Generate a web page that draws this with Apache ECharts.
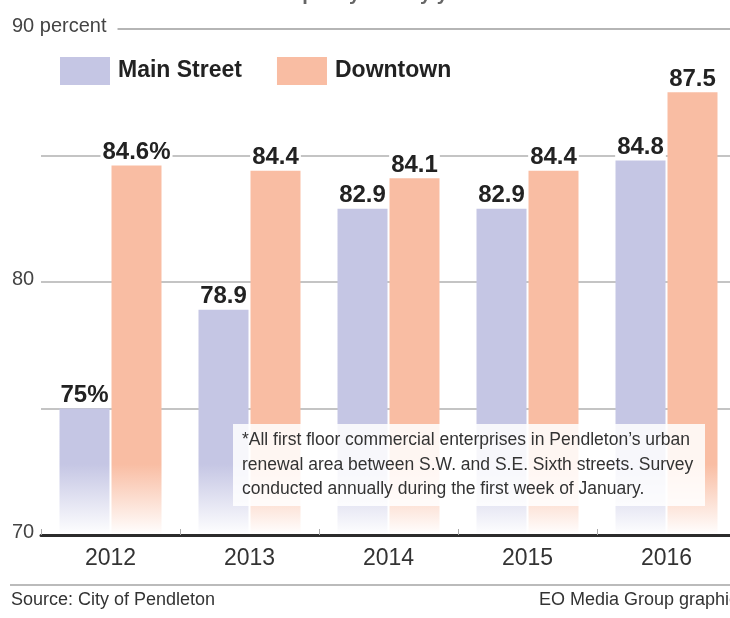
<!DOCTYPE html>
<html>
<head>
<meta charset="utf-8">
<script src="https://cdn.jsdelivr.net/npm/echarts@6/dist/echarts.min.js"></script>
<style>
html,body{margin:0;padding:0;background:#fff;}
#chart{width:730px;height:618px;}
</style>
</head>
<body>
<div id="chart"></div>
<script>
// ---- data ----
var years = ['2012', '2013', '2014', '2015', '2016'];
var mainStreet = [75, 78.9, 82.9, 82.9, 84.8];
var downtown = [84.6, 84.4, 84.1, 84.4, 87.5];
var seriesNames = ['Main Street', 'Downtown'];
var yTicks = [70, 80, 90];
var noteLines = [
  '*All first floor commercial enterprises in Pendleton\u2019s urban',
  'renewal area between S.W. and S.E. Sixth streets. Survey',
  'conducted annually during the first week of January.'
];
var sourceText = 'Source: City of Pendleton';
var creditText = 'EO Media Group graphic';
var topTitle = 'First floor commercial occupancy rate by year and location*';

// ---- styling ----
var SANS = "'Liberation Sans', Arial, sans-serif";
var mainColor = '#c5c6e4';
var downColor = '#f9bda3';

function fade(c) {
  return new echarts.graphic.LinearGradient(0, 29, 0, 535, [
    {offset: 0, color: c},
    {offset: 0.86, color: c},
    {offset: 1, color: '#ffffff'}
  ], true);
}

var valueLabel = {
  show: true,
  position: 'top',
  distance: 1,
  fontFamily: SANS,
  fontWeight: 'bold',
  fontSize: 24,
  color: '#222',
  backgroundColor: '#fff',
  padding: [0, 2, 0, 2],
  formatter: function (p) { return p.dataIndex === 0 ? p.value + '%' : String(p.value); }
};

var chart = echarts.init(document.getElementById('chart'), null, {renderer: 'canvas'});
chart.setOption({
  animation: false,
  backgroundColor: '#fff',
  grid: {left: 41, top: 29, width: 695, height: 506, containLabel: false, outerBoundsMode: 'none'},
  legend: {
    left: 60, top: 57, padding: 0,
    itemWidth: 50, itemHeight: 28, itemGap: 35,
    icon: 'rect',
    selectedMode: false,
    textStyle: {fontFamily: SANS, fontWeight: 'bold', fontSize: 23, color: '#222', padding: [0, 0, 0, 3]},
    data: [
      {name: seriesNames[0], itemStyle: {color: mainColor}},
      {name: seriesNames[1], itemStyle: {color: downColor}}
    ]
  },
  xAxis: [
    {
      type: 'category', z: 4,
      data: years,
      axisLine: {lineStyle: {color: '#2b2b2b', width: 3}},
      axisTick: {show: true, inside: true, length: 6, lineStyle: {color: '#aaa', width: 1}},
      axisLabel: {fontFamily: SANS, fontSize: 23, color: '#333', margin: 12},
      splitLine: {show: false}
    },
    {
      type: 'category', position: 'top',
      data: years,
      axisLine: {show: true, lineStyle: {color: '#b0b0b0', width: 1.5}},
      axisTick: {show: false}, axisLabel: {show: false}, splitLine: {show: false}
    }
  ],
  yAxis: [
    {
      type: 'value', min: 70, max: 90, interval: 5,
      axisLine: {show: false}, axisTick: {show: false},
      axisLabel: {show: false},
      splitLine: {show: true, lineStyle: {color: '#b0b0b0', width: 1.5}}
    },
    {
      type: 'value', min: 70, max: 90, interval: 5, position: 'left', z: 5,
      axisLine: {show: false}, axisTick: {show: false},
      splitLine: {show: false},
      axisLabel: {
        show: true, showMaxLabel: true, showMinLabel: true,
        align: 'left', margin: 29,
        formatter: function (v) {
          if (v === 90) return '{a|' + v + ' percent}';
          if (yTicks.indexOf(v) >= 0) return '{b|' + v + '}';
          return '';
        },
        rich: {
          a: {fontFamily: SANS, fontSize: 20, color: '#444', backgroundColor: '#fff', padding: [0, 11, 6, 0]},
          b: {fontFamily: SANS, fontSize: 20, color: '#444', padding: [0, 0, 6, 0]}
        }
      }
    }
  ],
  series: [
    {
      name: seriesNames[0], type: 'bar', xAxisIndex: 0, yAxisIndex: 0,
      data: mainStreet, barWidth: 50, barGap: '4%',
      itemStyle: {color: fade(mainColor)},
      label: valueLabel
    },
    {
      name: seriesNames[1], type: 'bar', xAxisIndex: 0, yAxisIndex: 0,
      data: downtown, barWidth: 50, barGap: '4%',
      itemStyle: {color: fade(downColor)},
      label: valueLabel
    }
  ],
  graphic: [
    {
      type: 'text', left: 40, top: -16, z: 100,
      style: {text: topTitle, fontFamily: SANS, fontWeight: 'bold', fontSize: 20, fill: '#666'}
    },
    {
      type: 'rect', left: 233, top: 424, z: 100,
      shape: {width: 472, height: 82},
      style: {fill: 'rgba(255,255,255,0.86)'}
    },
    {
      type: 'text', left: 242, top: 428, z: 101,
      style: {text: noteLines.join('\n'), fontFamily: SANS, fontSize: 17.5, lineHeight: 24.5, fill: '#333'}
    },
    {
      type: 'line', z: 100,
      shape: {x1: 10, y1: 585, x2: 730, y2: 585},
      style: {stroke: '#bbb', lineWidth: 2}
    },
    {
      type: 'text', left: 11, top: 591, z: 100,
      style: {text: sourceText, fontFamily: SANS, fontSize: 18, fill: '#333'}
    },
    {
      type: 'text', left: 539, top: 591, z: 100,
      style: {text: creditText, fontFamily: SANS, fontSize: 18, fill: '#333'}
    }
  ]
});
</script>
</body>
</html>
